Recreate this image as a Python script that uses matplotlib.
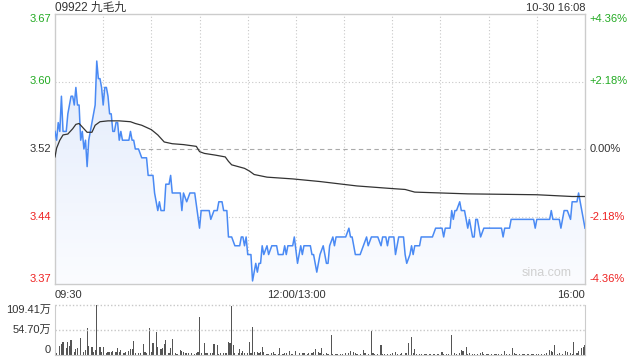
import numpy as np
import matplotlib
matplotlib.use("Agg")
import matplotlib.pyplot as plt
from matplotlib.colors import LinearSegmentedColormap

plt.rcParams['font.family'] = ['Liberation Sans', 'Noto Sans CJK SC', 'DejaVu Sans']

title = "09922 九毛九"
stamp = "10-30 16:08"
prev_close = 3.52
pct_max = 4.36
vol_max = 109.41

# minutes since 09:30, lunch break removed (150 + 180 minutes)
price_t = [0, 1, 2, 3, 4, 5, 7, 8, 10, 11, 12, 13, 14, 15, 16, 17, 18, 19, 20, 21,
           23, 24, 25, 26, 27, 28, 29, 30, 31, 32, 33, 34, 35, 36, 37, 38, 39, 40, 41, 42,
           46, 47, 48, 49, 50, 52, 54, 57, 58, 61, 62, 64, 65, 66, 68, 69, 71, 72, 73, 78,
           79, 80, 82, 84, 87, 90, 91, 96, 97, 99, 101, 102, 104, 105, 107, 108, 110, 112, 115, 116,
           117, 118, 119, 120, 122, 123, 124, 125, 126, 127, 128, 129, 130, 132, 133, 135, 138, 139, 142, 143,
           144, 145, 148, 149, 151, 152, 153, 154, 155, 159, 160, 161, 163, 164, 165, 167, 169, 170, 171, 173,
           174, 175, 181, 183, 184, 185, 187, 190, 192, 194, 195, 197, 201, 203, 204, 206, 207, 208, 211, 212,
           214, 217, 218, 219, 221, 222, 223, 224, 227, 228, 235, 237, 241, 242, 243, 246, 247, 248, 249, 250,
           252, 253, 255, 256, 257, 258, 260, 261, 262, 263, 265, 267, 278, 279, 280, 283, 284, 298, 299, 300,
           308, 309, 310, 314, 315, 317, 319, 321, 322, 325, 326, 328, 330]
price = [3.54, 3.53, 3.55, 3.54, 3.58, 3.54, 3.54, 3.56, 3.58, 3.58, 3.57, 3.59, 3.57, 3.57, 3.53, 3.54, 3.52, 3.53, 3.50, 3.53,
         3.55, 3.56, 3.57, 3.62, 3.60, 3.60, 3.59, 3.57, 3.59, 3.59, 3.58, 3.56, 3.56, 3.54, 3.54, 3.55, 3.55, 3.53, 3.54, 3.53,
         3.53, 3.54, 3.53, 3.53, 3.52, 3.52, 3.51, 3.51, 3.49, 3.49, 3.47, 3.45, 3.46, 3.45, 3.45, 3.48, 3.48, 3.49, 3.47, 3.47,
         3.45, 3.47, 3.46, 3.47, 3.47, 3.43, 3.45, 3.45, 3.44, 3.45, 3.45, 3.46, 3.46, 3.45, 3.45, 3.42, 3.42, 3.41, 3.41, 3.42,
         3.42, 3.41, 3.42, 3.40, 3.40, 3.37, 3.38, 3.39, 3.38, 3.39, 3.39, 3.41, 3.40, 3.41, 3.40, 3.41, 3.41, 3.40, 3.40, 3.41,
         3.40, 3.41, 3.41, 3.42, 3.39, 3.40, 3.41, 3.40, 3.41, 3.41, 3.40, 3.40, 3.38, 3.39, 3.40, 3.41, 3.39, 3.39, 3.41, 3.42,
         3.41, 3.42, 3.42, 3.43, 3.42, 3.42, 3.40, 3.40, 3.41, 3.42, 3.41, 3.42, 3.42, 3.41, 3.42, 3.42, 3.41, 3.42, 3.42, 3.40,
         3.42, 3.42, 3.40, 3.39, 3.40, 3.41, 3.40, 3.41, 3.41, 3.42, 3.42, 3.43, 3.43, 3.42, 3.43, 3.43, 3.45, 3.44, 3.45, 3.45,
         3.46, 3.45, 3.45, 3.44, 3.43, 3.44, 3.42, 3.42, 3.44, 3.44, 3.42, 3.43, 3.43, 3.42, 3.43, 3.43, 3.44, 3.44, 3.43, 3.44,
         3.44, 3.45, 3.44, 3.44, 3.43, 3.45, 3.45, 3.44, 3.46, 3.46, 3.47, 3.45, 3.43]

avg_t = [0, 1, 3, 5, 8, 11, 13, 15, 18, 20, 23, 25, 28, 33, 40, 47, 50, 54, 60, 64,
         68, 73, 80, 88, 90, 93, 100, 106, 108, 110, 118, 121, 124, 132, 148, 165, 188, 210, 218, 224,
         257, 300, 322, 330]
avg = [3.511, 3.521, 3.530, 3.536, 3.537, 3.543, 3.548, 3.549, 3.543, 3.539, 3.539, 3.547, 3.551, 3.552, 3.552, 3.551, 3.549, 3.547, 3.542, 3.536,
       3.528, 3.526, 3.525, 3.523, 3.517, 3.515, 3.513, 3.511, 3.506, 3.502, 3.498, 3.495, 3.491, 3.488, 3.486, 3.483, 3.478, 3.475, 3.474, 3.471,
       3.469, 3.468, 3.466, 3.466]

# volume in 万 shares
vol_t = [0, 1, 3, 4, 5, 7, 8, 9, 10, 12, 13, 14, 16, 18, 19, 20, 21, 23, 24, 25,
         26, 28, 29, 30, 32, 33, 34, 35, 36, 38, 39, 40, 41, 43, 44, 46, 47, 48, 49, 50,
         52, 53, 55, 56, 57, 59, 60, 61, 63, 64, 66, 67, 68, 69, 71, 72, 73, 75, 76, 78,
         79, 80, 81, 82, 83, 85, 87, 88, 89, 90, 91, 93, 94, 95, 97, 98, 99, 101, 102, 103,
         105, 106, 107, 108, 109, 110, 111, 112, 114, 115, 116, 117, 118, 120, 121, 122, 123, 124, 126, 127,
         128, 129, 130, 132, 133, 135, 136, 137, 139, 140, 142, 143, 144, 146, 147, 148, 150, 152, 154, 155,
         157, 158, 160, 161, 162, 164, 165, 166, 167, 169, 170, 172, 173, 175, 176, 178, 179, 181, 183, 184,
         186, 187, 188, 190, 192, 193, 195, 197, 198, 199, 201, 203, 204, 205, 207, 209, 210, 212, 213, 215,
         216, 218, 219, 220, 222, 223, 224, 225, 227, 228, 230, 231, 233, 234, 236, 238, 239, 241, 242, 244,
         245, 247, 249, 250, 252, 253, 254, 256, 257, 258, 260, 261, 263, 265, 266, 267, 269, 270, 272, 274,
         275, 276, 278, 280, 281, 283, 285, 286, 287, 289, 291, 292, 294, 295, 297, 298, 300, 301, 303, 305,
         306, 308, 309, 310, 311, 313, 314, 316, 318, 319, 321, 322, 323, 325, 326, 328, 329, 330]
vol = [43.7, 5.1, 19.7, 24.0, 29.2, 14.6, 29.2, 19.7, 32.8, 7.3, 12.4, 14.6, 36.5, 7.3, 10.9, 59.8, 19.7, 16.8, 7.3, 10.9,
       109.4, 18.2, 7.3, 18.2, 3.6, 7.3, 5.8, 7.3, 9.5, 7.3, 14.6, 7.3, 10.9, 5.1, 7.3, 9.5, 12.4, 12.4, 31.3, 5.1,
       3.6, 3.6, 24.0, 7.3, 3.6, 58.3, 7.3, 25.5, 51.0, 16.8, 12.4, 14.6, 24.0, 32.8, 3.6, 14.6, 34.3, 5.1, 2.2, 10.9,
       9.5, 7.3, 5.1, 3.6, 3.6, 5.1, 2.2, 3.6, 7.3, 83.8, 5.1, 25.5, 5.1, 3.6, 5.1, 5.1, 24.0, 21.9, 2.2, 3.6,
       5.1, 3.6, 5.1, 27.7, 25.5, 107.2, 21.9, 5.1, 5.1, 12.4, 3.6, 8.7, 3.6, 3.6, 27.7, 5.1, 60.5, 7.3, 7.3, 5.1,
       7.3, 16.8, 7.3, 2.2, 2.2, 3.6, 7.3, 2.2, 2.2, 14.6, 2.2, 3.6, 5.1, 9.5, 2.2, 2.2, 9.5, 3.6, 3.6, 3.6,
       2.2, 3.6, 5.1, 7.3, 12.4, 7.3, 3.6, 14.6, 2.2, 3.6, 2.2, 43.7, 2.2, 2.2, 2.2, 2.2, 2.2, 3.6, 5.1, 8.7,
       5.8, 3.6, 2.2, 2.2, 10.9, 3.6, 2.2, 52.5, 3.6, 2.2, 2.2, 21.9, 2.2, 2.2, 2.2, 2.2, 3.6, 5.8, 2.2, 2.2,
       3.6, 3.6, 5.1, 27.0, 38.6, 5.1, 12.4, 2.2, 2.2, 2.2, 2.2, 2.2, 2.2, 2.2, 2.2, 2.2, 2.2, 5.8, 2.2, 2.2,
       2.2, 43.7, 3.6, 2.2, 3.6, 10.9, 9.5, 16.8, 2.2, 3.6, 2.2, 2.2, 2.2, 3.6, 5.8, 2.2, 2.2, 2.2, 2.2, 2.2,
       2.2, 2.2, 2.2, 8.7, 2.2, 2.2, 14.6, 3.6, 2.2, 2.2, 2.2, 2.2, 2.2, 2.2, 2.2, 2.2, 2.2, 2.2, 2.2, 2.2,
       3.6, 10.9, 8.7, 7.3, 21.9, 2.2, 3.6, 2.2, 8.7, 5.8, 3.6, 2.2, 27.7, 3.6, 8.7, 14.6, 18.2, 21.9]

x_ticks = [0, 150, 330]
x_labels = ["09:30", "12:00/13:00", "16:00"]

green = '#22aa22'
red = '#ee2222'
grid_c = '#c8c8c8'
frame_c = '#cccccc'

ymax = prev_close * (1 + pct_max / 100)
ymin = prev_close * (1 - pct_max / 100)
ymid_hi = prev_close * (1 + pct_max / 200)
ymid_lo = prev_close * (1 - pct_max / 200)

fig = plt.figure(figsize=(6.4, 3.6), dpi=100)
ax = fig.add_axes([55 / 640, 76 / 360, 530 / 640, 270 / 360])
axv = fig.add_axes([55 / 640, 5 / 360, 530 / 640, 50 / 360])

ax.set_xlim(0, 330)
ax.set_ylim(ymin, ymax)
for s in ax.spines.values():
    s.set_color(frame_c)
    s.set_linewidth(1)
ax.set_xticks([])
ax.set_yticks([])

for m in range(30, 330, 30):
    ax.axvline(m, color=grid_c, lw=0.8, ls=(0, (1, 2)), zorder=0)
ax.axhline(ymid_hi, color=grid_c, lw=0.8, ls=(0, (1, 2)), zorder=0)
ax.axhline(ymid_lo, color=grid_c, lw=0.8, ls=(0, (1, 2)), zorder=0)
ax.axhline(prev_close, color='#aaaaaa', lw=0.8, ls=(0, (4, 3)), zorder=0)

# gradient fill under the price line
poly = ax.fill_between(price_t, price, ymin, color='none', lw=0)
cmap = LinearSegmentedColormap.from_list('fade', ['#fbfcff', '#dde8fb'])
grad = np.linspace(0, 1, 256).reshape(-1, 1)
im = ax.imshow(grad, cmap=cmap, extent=[0, 330, ymin, ymax], aspect='auto',
               origin='lower', zorder=1)
im.set_clip_path(poly.get_paths()[0], transform=ax.transData)

ax.plot(price_t, price, color='#4a8af4', lw=1.1, zorder=3)
ax.plot(avg_t, avg, color='#333333', lw=0.9, zorder=4)

ax.text(0.975, 0.02, "sina.com", transform=ax.transAxes, ha='right', va='bottom',
        fontsize=9, color='#d0d0d0')

# left price labels and right percent labels
left = [(ymax, "%.2f" % ymax, green, 'top'), (ymid_hi, "%.2f" % ymid_hi, green, 'center'),
        (prev_close, "%.2f" % prev_close, '#333333', 'center'),
        (ymid_lo, "%.2f" % ymid_lo, red, 'center'), (ymin, "%.2f" % ymin, red, 'bottom')]
right = ["+%.2f%%" % pct_max, "+%.2f%%" % (pct_max / 2), "0.00%",
         "-%.2f%%" % (pct_max / 2), "-%.2f%%" % pct_max]
for (yv, lab, c, va), rlab in zip(left, right):
    ax.text(-2.5, yv, lab, ha='right', va=va, fontsize=8, color=c)
    ax.text(333, yv, rlab, ha='left', va=va, fontsize=8, color=c)

for xt, xl in zip(x_ticks, x_labels):
    ha = 'left' if xt == 0 else ('right' if xt == 330 else 'center')
    ax.text(xt, ymin - 0.007, xl, ha=ha, va='top', fontsize=8, color='#333333')

fig.text(55 / 640, 1 - 8 / 360, title, ha='left', va='center', fontsize=8.5, color='#333333')
fig.text(585 / 640, 1 - 8 / 360, stamp, ha='right', va='center', fontsize=8, color='#333333')

# volume panel
axv.set_xlim(0, 330)
axv.set_ylim(0, vol_max)
axv.bar(vol_t, vol, width=0.7, color='#555555', lw=0)
axv.set_xticks([])
axv.set_yticks([])
axv.spines['top'].set_visible(False)
for k in ['left', 'right', 'bottom']:
    axv.spines[k].set_color(frame_c)
axv.axhline(vol_max, color=grid_c, lw=1, ls=(0, (1, 1.5)), clip_on=False)
axv.axhline(vol_max / 2, color=grid_c, lw=1, ls=(0, (1, 1.5)))
axv.text(-2.5, vol_max, "%.2f万" % vol_max, ha='right', va='top', fontsize=8, color='#333333')
axv.text(-2.5, vol_max / 2, "%.2f万" % (vol_max / 2 - 0.005), ha='right', va='center', fontsize=8, color='#333333')
axv.text(-2.5, 0, "0", ha='right', va='bottom', fontsize=8, color='#333333')

fig.savefig("out.png", dpi=100)
